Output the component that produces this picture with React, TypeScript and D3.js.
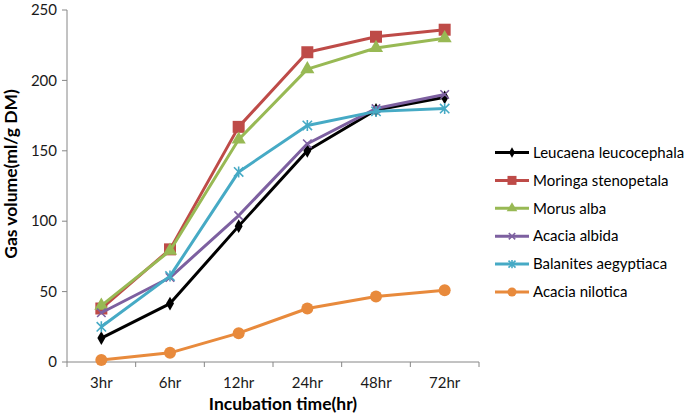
import React from "react";
import * as d3 from "d3";

const categories = ["3hr", "6hr", "12hr", "24hr", "48hr", "72hr"];
const yTicks = [0, 50, 100, 150, 200, 250];

const leucaena = [17, 41.5, 96.5, 150, 179, 188];
const moringa = [38, 80, 167, 220, 231, 236];
const morus = [40, 79, 158, 208, 223, 230];
const acaciaAlbida = [35, 60, 104, 155, 180, 190];
const balanites = [25, 61, 135, 168, 178, 180];
const acaciaNilotica = [1.5, 6.5, 20.5, 38, 46.5, 51];

const seriesNames = [
  "Leucaena leucocephala",
  "Moringa stenopetala",
  "Morus alba",
  "Acacia albida",
  "Balanites aegyptiaca",
  "Acacia nilotica",
];
const seriesValues = [leucaena, moringa, morus, acaciaAlbida, balanites, acaciaNilotica];
const seriesColors = ["#000000", "#BE4B48", "#98B954", "#7D60A0", "#46AAC5", "#E88A3C"];
const seriesMarkers = ["diamond", "square", "triangle", "x", "asterisk", "circle"];

const FONT = "Lato, 'Open Sans', sans-serif";

function Marker({ type, color, s }: { type: string; color: string; s: number }) {
  const h = s / 2;
  if (type === "diamond") {
    return <path d={d3.symbol(d3.symbolDiamond, s * s * 0.55)()!} fill={color} />;
  }
  if (type === "square") {
    return <path d={d3.symbol(d3.symbolSquare, s * s)()!} fill={color} />;
  }
  if (type === "triangle") {
    return <path d={d3.symbol(d3.symbolTriangle, s * s * 0.6)()!} fill={color} />;
  }
  if (type === "circle") {
    return <path d={d3.symbol(d3.symbolCircle, Math.PI * h * h)()!} fill={color} />;
  }
  const k = h * 0.85;
  const p = d3.path();
  p.moveTo(-k, -k);
  p.lineTo(k, k);
  p.moveTo(-k, k);
  p.lineTo(k, -k);
  if (type === "asterisk") {
    p.moveTo(0, -h);
    p.lineTo(0, h);
  }
  return <path d={p.toString()} stroke={color} strokeWidth={1.6} fill="none" />;
}

export default function App() {
  const W = 685;
  const H = 415;
  const x = d3.scaleBand<string>().domain(categories).range([67, 479]).padding(0);
  const y = d3.scaleLinear().domain([0, 250]).range([362, 10]);
  const cx = (c: string) => (x(c) as number) + x.bandwidth() / 2;
  const line = d3
    .line<number>()
    .x((_, i) => cx(categories[i]))
    .y((d) => y(d));
  const bounds = [...categories.map((c) => x(c) as number), 479];
  const markerSizes = [10, 12, 12, 10, 11, 12];

  return (
    <svg
      width={W}
      height={H}
      style={{ position: "absolute", left: 0, top: 0, background: "#fff" }}
      fontFamily={FONT}
    >
      {/* y axis */}
      <line x1={67} x2={67} y1={y(250)} y2={y(0)} stroke="#868686" strokeWidth={1} />
      {yTicks.map((t) => (
        <g key={t}>
          <line x1={62} x2={67} y1={y(t)} y2={y(t)} stroke="#868686" />
          <text x={57} y={y(t)} dy="0.35em" textAnchor="end" fontSize={15} fill="#1a1a1a">
            {t}
          </text>
        </g>
      ))}
      {/* x axis */}
      <line x1={67} x2={479} y1={y(0)} y2={y(0)} stroke="#868686" />
      {bounds.map((b, i) => (
        <line key={i} x1={b} x2={b} y1={y(0)} y2={y(0) + 5} stroke="#868686" />
      ))}
      {categories.map((c) => (
        <text key={c} x={cx(c)} y={388} textAnchor="middle" fontSize={15} fill="#1a1a1a">
          {c}
        </text>
      ))}
      {/* titles */}
      <text x={283} y={410} textAnchor="middle" fontSize={17.5} fontWeight="bold" fill="#000">
        Incubation time(hr)
      </text>
      <text
        transform={`translate(17,174) rotate(-90)`}
        textAnchor="middle"
        fontSize={17.5}
        fontWeight="bold"
        fill="#000"
      >
        Gas volume(ml/g DM)
      </text>
      {/* series */}
      {seriesValues.map((vals, si) => (
        <g key={si}>
          <path d={line(vals)!} fill="none" stroke={seriesColors[si]} strokeWidth={3} strokeLinejoin="round" />
          {vals.map((v, i) => (
            <g key={i} transform={`translate(${cx(categories[i])},${y(v)})`}>
              <Marker type={seriesMarkers[si]} color={seriesColors[si]} s={markerSizes[si]} />
            </g>
          ))}
        </g>
      ))}
      {/* legend */}
      {seriesNames.map((n, i) => {
        const ly = 152.5 + i * 27.9;
        return (
          <g key={n}>
            <line x1={495} x2={529} y1={ly} y2={ly} stroke={seriesColors[i]} strokeWidth={3} />
            <g transform={`translate(512,${ly})`}>
              <Marker type={seriesMarkers[i]} color={seriesColors[i]} s={markerSizes[i] * 0.75} />
            </g>
            <text x={533} y={ly} dy="0.35em" fontSize={15} fill="#000">
              {n}
            </text>
          </g>
        );
      })}
    </svg>
  );
}
